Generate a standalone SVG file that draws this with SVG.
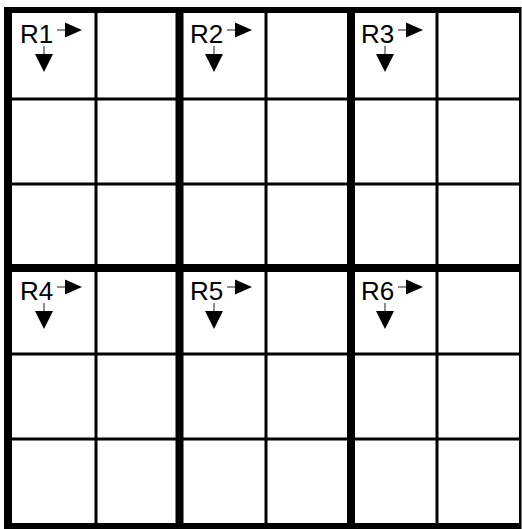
<svg xmlns="http://www.w3.org/2000/svg" width="522" height="529" viewBox="0 0 522 529">
  <style>
    .thin { stroke: #000; stroke-width: 3; }
    .thick { stroke: #000; stroke-width: 8; }
    .lbl { font-family: "Liberation Sans", Arial, sans-serif; font-size: 26px; fill: #000; }
    .stem { stroke: #444; stroke-width: 1.2; }
    .head { fill: #000; }
  </style>
  <defs>
    <g id="arrows">
      <line class="stem" x1="37" y1="-13" x2="46" y2="-13"/>
      <polygon class="head" points="45,-20.5 62,-13 45,-5.5"/>
      <line class="stem" x1="24" y1="3" x2="24" y2="12"/>
      <polygon class="head" points="15,11 33,11 24,29"/>
    </g>
  </defs>
  <rect x="0" y="0" width="522" height="529" fill="#fff"/>
  <g id="grid">
    <line class="thin" x1="96" y1="7" x2="96" y2="529"/>
    <line class="thin" x1="266" y1="7" x2="266" y2="529"/>
    <line class="thin" x1="437" y1="7" x2="437" y2="529"/>
    <line class="thin" x1="4" y1="99" x2="521" y2="99"/>
    <line class="thin" x1="4" y1="184" x2="521" y2="184"/>
    <line class="thin" x1="4" y1="354" x2="521" y2="354"/>
    <line class="thin" x1="4" y1="439" x2="521" y2="439"/>
    <line class="thick" x1="179.5" y1="7" x2="179.5" y2="529"/>
    <line class="thick" x1="351" y1="7" x2="351" y2="529"/>
    <line class="thick" x1="4" y1="268" x2="521" y2="268"/>
    <rect x="4" y="7" width="8" height="522" fill="#000"/>
    <rect x="4" y="7" width="517" height="6" fill="#000"/>
    <rect x="4" y="523" width="517" height="6" fill="#000"/>
    <rect x="519" y="7" width="2.5" height="522" fill="#000"/>
  </g>
  <g id="R1" transform="translate(20,43)"><text class="lbl" x="0" y="0">R1</text><use href="#arrows"/></g>
  <g id="R2" transform="translate(190,43)"><text class="lbl" x="0" y="0">R2</text><use href="#arrows"/></g>
  <g id="R3" transform="translate(361,43)"><text class="lbl" x="0" y="0">R3</text><use href="#arrows"/></g>
  <g id="R4" transform="translate(20,300)"><text class="lbl" x="0" y="0">R4</text><use href="#arrows"/></g>
  <g id="R5" transform="translate(190,300)"><text class="lbl" x="0" y="0">R5</text><use href="#arrows"/></g>
  <g id="R6" transform="translate(361,300)"><text class="lbl" x="0" y="0">R6</text><use href="#arrows"/></g>
</svg>
